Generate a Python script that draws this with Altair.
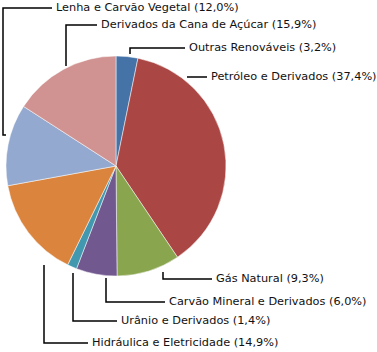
import altair as alt
import pandas as pd

# Data
categories = [
    "Outras Renováveis", "Petróleo e Derivados", "Gás Natural",
    "Carvão Mineral e Derivados", "Urânio e Derivados",
    "Hidráulica e Eletricidade", "Lenha e Carvão Vegetal",
    "Derivados da Cana de Açúcar",
]
shares = [3.2, 37.4, 9.3, 6.0, 1.4, 14.9, 12.0, 15.9]
labels = [
    "Outras Renováveis (3,2%)", "Petróleo e Derivados (37,4%)",
    "Gás Natural (9,3%)", "Carvão Mineral e Derivados (6,0%)",
    "Urânio e Derivados (1,4%)", "Hidráulica e Eletricidade (14,9%)",
    "Lenha e Carvão Vegetal (12,0%)", "Derivados da Cana de Açúcar (15,9%)",
]
colors = ["#4572A7", "#AA4643", "#89A54E", "#71588F", "#4198AF",
          "#DB843D", "#93A9CF", "#D19392"]

# Layout: leader-line polylines (pixel space) and label anchors
leader_x = [[130, 130, 185], [187, 207], [163, 163, 212], [106, 106, 165],
            [73, 73, 117], [44, 44, 88], [6, 3, 3, 52], [66, 66, 97]]
leader_y = [[54, 48, 48], [77, 77], [272, 279, 279], [278, 302, 302],
            [273, 321, 321], [265, 343, 343], [135, 135, 8, 8], [66, 25, 25]]

W, H = 377, 352
CX, CY, R = 116, 166, 110

pie_df = pd.DataFrame({"cat": categories, "share": shares,
                       "idx": list(range(len(categories)))})
line_rows = []
for i, (xs_, ys_) in enumerate(zip(leader_x, leader_y)):
    for j, (x, y) in enumerate(zip(xs_, ys_)):
        line_rows.append({"cat": categories[i], "seq": j, "x": x, "y": y})
line_df = pd.DataFrame(line_rows)
text_df = pd.DataFrame({
    "label": labels,
    "x": [v[-1] + 4 for v in leader_x],
    "y": [v[-1] for v in leader_y],
})

xs = alt.Scale(domain=[0, W], range=[0, W])
ys = alt.Scale(domain=[0, H], range=[0, H])

pie = alt.Chart(pie_df).mark_arc(outerRadius=R, stroke="white", strokeWidth=0.5).encode(
    theta=alt.Theta("share:Q", stack=True),
    order=alt.Order("idx:Q"),
    color=alt.Color("cat:N", scale=alt.Scale(domain=categories, range=colors), legend=None),
    x=alt.value(CX), y=alt.value(CY),
)

lines = alt.Chart(line_df).mark_line(color="#000000", strokeWidth=1.5).encode(
    x=alt.X("x:Q", scale=xs, axis=None),
    y=alt.Y("y:Q", scale=ys, axis=None),
    detail="cat:N",
    order="seq:Q",
)

texts = alt.Chart(text_df).mark_text(
    align="left", baseline="middle", font="DejaVu Sans", fontSize=11.3,
    color="#111111"
).encode(
    x=alt.X("x:Q", scale=xs, axis=None),
    y=alt.Y("y:Q", scale=ys, axis=None),
    text="label:N",
)

chart = alt.layer(pie, lines, texts).properties(
    width=W, height=H, autosize=alt.AutoSizeParams(type="none"), padding=0,
    background="white",
).configure_view(stroke=None)

chart.save("out.html", embed_options={"renderer": "svg", "actions": False})
